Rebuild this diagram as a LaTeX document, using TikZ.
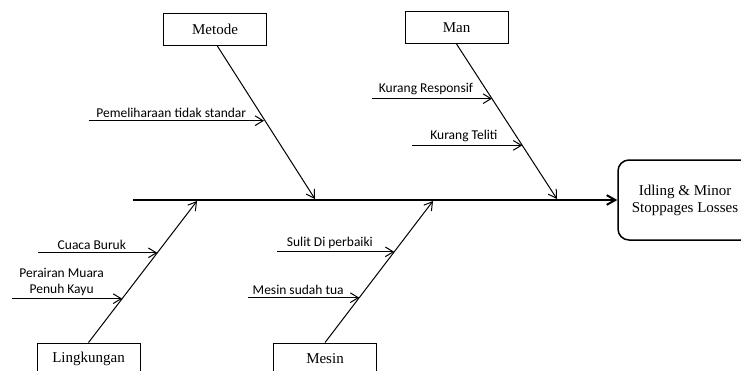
\documentclass[tikz,border=0pt]{standalone}
\usepackage{fontspec}
\setmainfont{Liberation Serif}
\newfontfamily\causefont{Carlito}
\usetikzlibrary{arrows.meta,positioning,calc}

\begin{document}
\begin{tikzpicture}[x=1pt, y=-1pt,
    cat/.style={draw, line width=0.9pt, minimum width=103pt,
      minimum height=32pt, inner sep=0pt,
      font=\fontsize{15}{17}\selectfont},
    effect/.style={draw, line width=1.5pt, rounded corners=11pt,
      minimum width=134pt, minimum height=80pt, align=center,
      font=\fontsize{15}{17}\selectfont},
    spine/.style={line width=2pt, -{Straight Barb[length=3mm, width=3.4mm]}},
    bone/.style={line width=1pt, -{Straight Barb[length=2.8mm, width=3.4mm]}},
    sub/.style={line width=1pt, -{Straight Barb[length=2.8mm, width=3.4mm]}},
    lbl/.style={font=\causefont\fontsize{13.5}{15.5}\selectfont,
      inner sep=3pt, align=center}
  ]
  \useasboundingbox (0,0) rectangle (741,370);
  % categories and effect
  \node[cat] (metode) at (215,29) {Metode};
  \node[cat] (man) at (456.5,27.5) {Man};
  \node[cat] (lingkungan) at (88.5,359) {Lingkungan};
  \node[cat] (mesin) at (325,359) {Mesin};
  \node[effect] (effect) at (685,200) {Idling \& Minor\\Stoppages Losses};
  % spine
  \coordinate (tail) at (133,200);
  \draw[spine] (tail) -- (effect);
  % bones
  \coordinate (jmetode) at (315,199);
  \coordinate (jman) at (557,199);
  \coordinate (jling) at (197,201);
  \coordinate (jmesin) at (433,201);
  \draw[bone] ([xshift=2pt]metode.south) -- (jmetode);
  \draw[bone] (man.south) -- (jman);
  \draw[bone] (lingkungan.north) -- (jling);
  \draw[bone] (mesin.north) -- (jmesin);
  % causes
  \coordinate (c1) at ($(metode.south)!0.49!(jmetode)$);
  \coordinate (c2) at ($(man.south)!0.353!(jman)$);
  \coordinate (c3) at ($(man.south)!0.654!(jman)$);
  \coordinate (c4) at ($(lingkungan.north)!0.634!(jling)$);
  \coordinate (c5) at ($(lingkungan.north)!0.31!(jling)$);
  \coordinate (c6) at ($(mesin.north)!0.641!(jmesin)$);
  \coordinate (c7) at ($(mesin.north)!0.317!(jmesin)$);
  \draw[sub] ([xshift=-175pt]c1) -- (c1)
    node[lbl, pos=0.47, above] (l1) {Pemeliharaan tidak standar};
  \draw[sub] ([xshift=-120pt]c2) -- (c2)
    node[lbl, pos=0.45, above] (l2) {Kurang Responsif};
  \draw[sub] ([xshift=-110pt]c3) -- (c3)
    node[lbl, pos=0.47, above] (l3) {Kurang Teliti};
  \draw[sub] ([xshift=-119pt]c4) -- (c4)
    node[lbl, pos=0.45, above] (l4) {Cuaca Buruk};
  \draw[sub] ([xshift=-110pt]c5) -- (c5)
    node[lbl, pos=0.45, above] (l5) {Perairan Muara\\Penuh Kayu};
  \draw[sub] ([xshift=-117pt]c6) -- (c6)
    node[lbl, pos=0.45, above] (l6) {Sulit Di perbaiki};
  \draw[sub] ([xshift=-111pt]c7) -- (c7)
    node[lbl, pos=0.45, above] (l7) {Mesin sudah tua};
\end{tikzpicture}
\end{document}
